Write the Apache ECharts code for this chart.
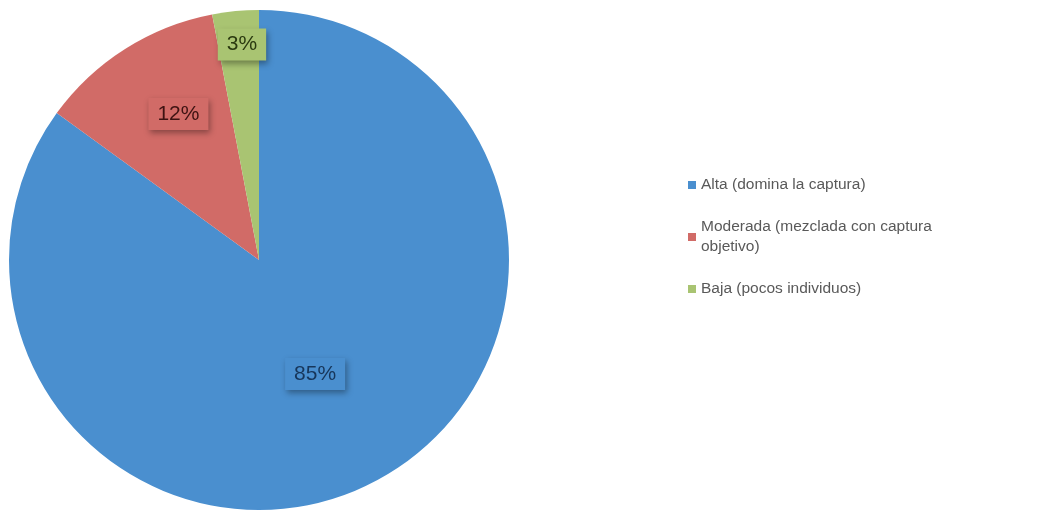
<!DOCTYPE html>
<html><head><meta charset="utf-8">
<script src="https://cdn.jsdelivr.net/npm/echarts@6/dist/echarts.min.js"></script>
<style>html,body{margin:0;padding:0;background:#fff}#c{width:1063px;height:511px}</style>
</head><body><div id="c"></div>
<script>
var categories = ['Alta (domina la captura)', 'Moderada (mezclada con captura objetivo)', 'Baja (pocos individuos)'];
var values = [85, 12, 3];
var colors = ['#4a8fcf', '#d16b67', '#a9c472'];
var labelTextColors = ['#17365a', '#3e1312', '#2b3a10'];
var labelOffsets = [[-2, 0], [-12, -38], [-5, -88]];

var chart = echarts.init(document.getElementById('c'));
var data = categories.map(function (c, i) {
  return {
    name: c, value: values[i],
    itemStyle: { color: colors[i] },
    label: { color: labelTextColors[i], backgroundColor: colors[i], offset: labelOffsets[i] }
  };
});
chart.setOption({
  animation: false,
  legend: {
    orient: 'vertical', left: 683, top: 170,
    itemWidth: 8, itemHeight: 8, itemGap: 22, icon: 'rect',
    textStyle: { fontFamily: 'Liberation Sans, Arial', fontSize: 15.5, color: '#595959', lineHeight: 20 },
    formatter: function (n) { return n === categories[1] ? 'Moderada (mezclada con captura\nobjetivo)' : n; }
  },
  series: [{
    type: 'pie', center: [259, 260], radius: [0, 250], startAngle: 90, clockwise: true,
    label: {
      show: true, position: 'inside', formatter: '{d}%',
      fontFamily: 'Liberation Sans, Arial', fontSize: 21,
      padding: [6, 9, 5, 9],
      shadowColor: 'rgba(0,0,0,0.35)', shadowBlur: 6, shadowOffsetX: 2, shadowOffsetY: 3
    },
    labelLine: { show: false },
    emphasis: { disabled: true },
    data: data
  }]
});
</script></body></html>
